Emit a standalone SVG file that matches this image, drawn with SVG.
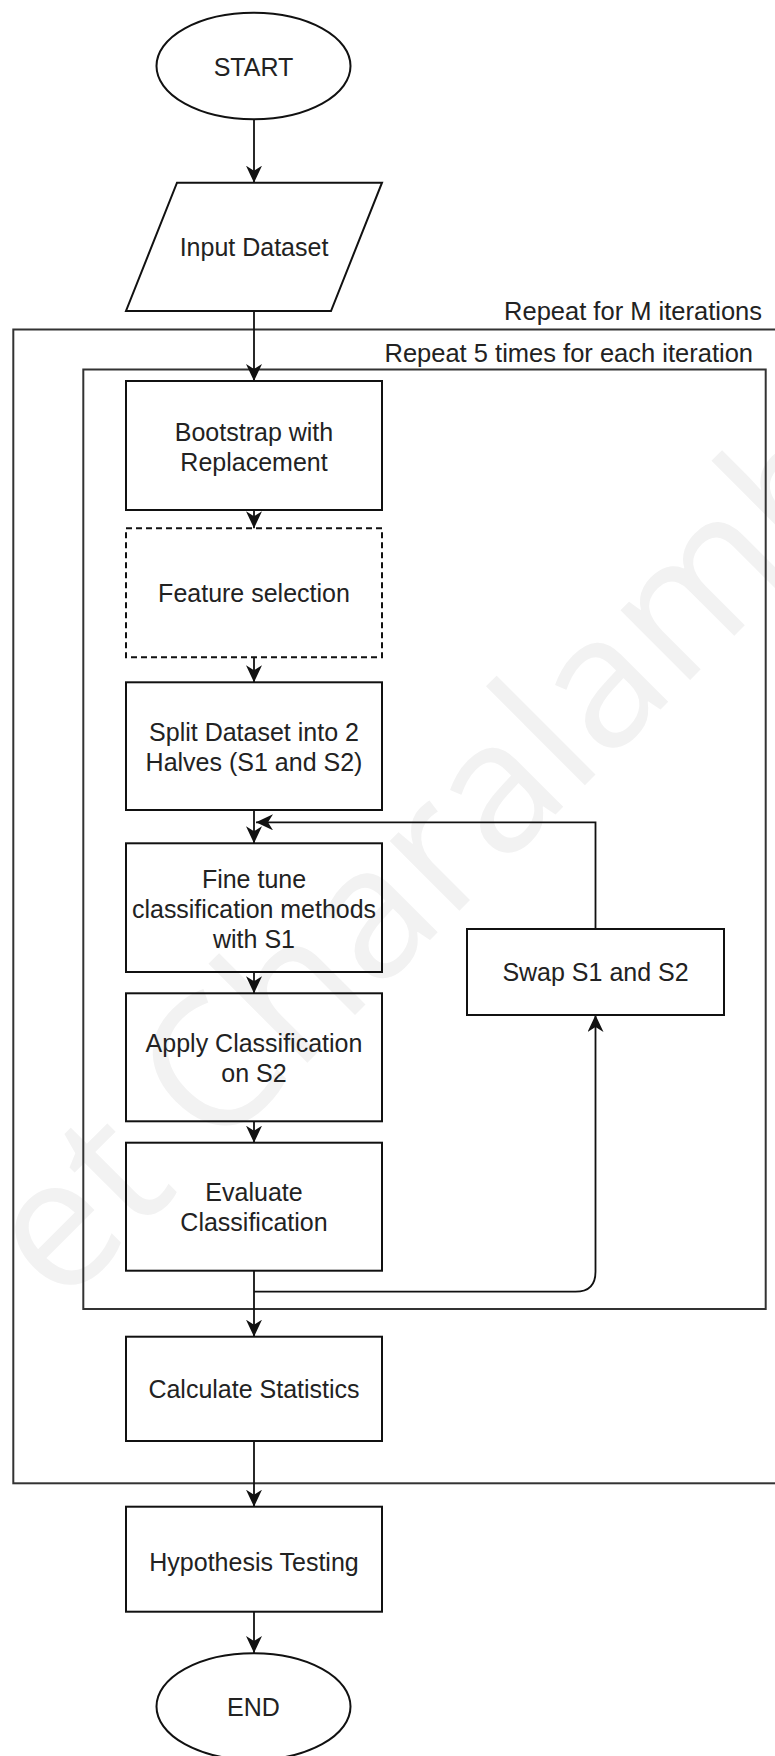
<svg xmlns="http://www.w3.org/2000/svg" width="775" height="1756" viewBox="0 0 775 1756">
<style>
.node{fill:none;stroke:#111;stroke-width:2}
.dash{stroke-dasharray:6 4}
.lbl{font-family:"Liberation Sans",Arial,sans-serif;font-size:25px;fill:#222;text-anchor:middle}
.cap{font-family:"Liberation Sans",Arial,sans-serif;font-size:25.5px;fill:#222;text-anchor:end}
.edge{fill:none;stroke:#111;stroke-width:1.8}
.frame{fill:none;stroke:#333;stroke-width:2}
.wm{font-family:"Open Sans",sans-serif;font-size:184px;fill:#f2f2f2}
</style>
<defs>
<marker id="arr" viewBox="0 0 17 16" markerWidth="17" markerHeight="16" refX="17" refY="8" orient="auto" markerUnits="userSpaceOnUse">
<path d="M0,0 L17,8 L0,16 L5,8 Z" fill="#111"/>
</marker>
</defs>
<rect width="775" height="1756" fill="#fff"/>
<g id="watermark">
<text class="wm" transform="translate(61,1309) rotate(-45)">et Charalamb</text>
</g>
<g id="frames">
<rect id="outer-loop" class="frame" x="13.3" y="329.5" width="770" height="1153.8"/>
<text class="cap" x="762" y="320">Repeat for M iterations</text>
<rect id="inner-loop" class="frame" x="83.3" y="369.5" width="682.4" height="939.5"/>
<text class="cap" x="753" y="362">Repeat 5 times for each iteration</text>
</g>
<g id="connectors">
<path class="edge" d="M254,119.3 V182.7" marker-end="url(#arr)"/>
<path class="edge" d="M254,311 V381" marker-end="url(#arr)"/>
<path class="edge" d="M254,510 V528.3" marker-end="url(#arr)"/>
<path class="edge" d="M254,657.3 V682.3" marker-end="url(#arr)"/>
<path class="edge" d="M254,810 V843.3" marker-end="url(#arr)"/>
<path class="edge" d="M254,972 V993.3" marker-end="url(#arr)"/>
<path class="edge" d="M254,1121.3 V1142.7" marker-end="url(#arr)"/>
<path class="edge" d="M254,1270.7 V1336.7" marker-end="url(#arr)"/>
<path class="edge" d="M254,1291.7 H575.5 Q595.5,1291.7 595.5,1271.7 V1015" marker-end="url(#arr)"/>
<path class="edge" d="M595.5,929 V822.3 H256" marker-end="url(#arr)"/>
<path class="edge" d="M254,1441 V1506.7" marker-end="url(#arr)"/>
<path class="edge" d="M254,1611.7 V1653" marker-end="url(#arr)"/>
</g>
<g id="start">
<ellipse class="node" cx="253.5" cy="66" rx="97" ry="53.3"/>
<text class="lbl" x="253.5" y="75.5">START</text>
</g>
<g id="input">
<polygon class="node" points="177,182.7 382,182.7 331,311 126,311"/>
<text class="lbl" x="254" y="256">Input Dataset</text>
</g>
<g id="bootstrap">
<rect class="node" x="126" y="381" width="256" height="129"/>
<text class="lbl" x="254" y="440.5">Bootstrap with</text>
<text class="lbl" x="254" y="470.5">Replacement</text>
</g>
<g id="feature">
<rect class="node dash" x="126" y="528.3" width="256" height="129"/>
<text class="lbl" x="254" y="602">Feature selection</text>
</g>
<g id="split">
<rect class="node" x="126" y="682.3" width="256" height="127.7"/>
<text class="lbl" x="254" y="741">Split Dataset into 2</text>
<text class="lbl" x="254" y="771">Halves (S1 and S2)</text>
</g>
<g id="finetune">
<rect class="node" x="126" y="843.3" width="256" height="128.7"/>
<text class="lbl" x="254" y="887.5">Fine tune</text>
<text class="lbl" x="254" y="917.5" textLength="244" lengthAdjust="spacingAndGlyphs">classification methods</text>
<text class="lbl" x="254" y="947.5">with S1</text>
</g>
<g id="apply">
<rect class="node" x="126" y="993.3" width="256" height="128"/>
<text class="lbl" x="254" y="1052">Apply Classification</text>
<text class="lbl" x="254" y="1082">on S2</text>
</g>
<g id="evaluate">
<rect class="node" x="126" y="1142.7" width="256" height="128"/>
<text class="lbl" x="254" y="1201">Evaluate</text>
<text class="lbl" x="254" y="1231">Classification</text>
</g>
<g id="swap">
<rect class="node" x="467" y="929" width="257" height="86"/>
<text class="lbl" x="595.5" y="981">Swap S1 and S2</text>
</g>
<g id="calc">
<rect class="node" x="126" y="1336.7" width="256" height="104.3"/>
<text class="lbl" x="254" y="1398">Calculate Statistics</text>
</g>
<g id="hypothesis">
<rect class="node" x="126" y="1506.7" width="256" height="105"/>
<text class="lbl" x="254" y="1571">Hypothesis Testing</text>
</g>
<g id="end">
<ellipse class="node" cx="253.5" cy="1706.5" rx="97" ry="53.3"/>
<text class="lbl" x="253.5" y="1716">END</text>
</g>
</svg>
